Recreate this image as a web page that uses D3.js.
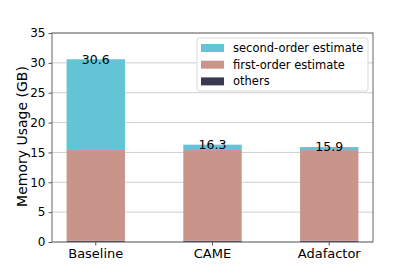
<!DOCTYPE html>
<html>
<head>
<meta charset="utf-8">
<script src="https://cdn.jsdelivr.net/npm/d3@7"></script>
<style>
  body { margin: 0; background: #fff; }
  text { font-family: "DejaVu Sans", sans-serif; fill: #000; }
</style>
</head>
<body>
<svg id="chart"></svg>
<script>
var categories = ["Baseline", "CAME", "Adafactor"]
var others = [0.2, 0.2, 0.2]
var firstOrder = [15.2, 15.2, 15.2]
var secondOrder = [15.2, 0.9, 0.5]
var totals = [30.6, 16.3, 15.9]
var yTicks = [0, 5, 10, 15, 20, 25, 30, 35]
var seriesNames = ["others", "first-order estimate", "second-order estimate"]
var seriesColors = ["#393a52", "#c9948a", "#62c4d4"]

var width = 415
var height = 277
var margin = {top: 33, right: 42, bottom: 35, left: 52}
var innerW = width - margin.left - margin.right
var innerH = height - margin.top - margin.bottom

var svg = d3.select("#chart")
    .attr("width", width)
    .attr("height", height)
  .append("g")
    .attr("transform", `translate(${margin.left},${margin.top})`)

var xScale = d3.scaleBand().domain(categories).range([0, innerW])
    .paddingInner(0.5).paddingOuter(0.125)
var yScale = d3.scaleLinear().domain([0, 35]).range([innerH, 0])

// grid
svg.append("g")
  .selectAll("line")
  .data(yTicks)
  .enter().append("line")
  .attr("x1", 0).attr("x2", innerW)
  .attr("y1", d => yScale(d)).attr("y2", d => yScale(d))
  .attr("stroke", "#cfcfcf").attr("stroke-width", 1)

// stacked bars
var rows = categories.map((c, i) => ({cat: c, others: others[i], first: firstOrder[i], second: secondOrder[i]}))
var stack = d3.stack().keys(["others", "first", "second"])
var layers = stack(rows)

svg.selectAll(".layer")
  .data(layers)
  .enter().append("g")
  .attr("class", "layer")
  .attr("fill", (d, i) => seriesColors[i])
  .selectAll("rect")
  .data(d => d)
  .enter().append("rect")
  .attr("x", d => xScale(d.data.cat))
  .attr("width", xScale.bandwidth())
  .attr("y", d => yScale(d[1]))
  .attr("height", d => yScale(d[0]) - yScale(d[1]))

// value labels
svg.selectAll(".val")
  .data(categories)
  .enter().append("text")
  .attr("class", "val")
  .attr("x", d => xScale(d) + xScale.bandwidth() / 2)
  .attr("y", (d, i) => yScale(totals[i]))
  .attr("dy", "0.35em")
  .attr("text-anchor", "middle")
  .style("font-size", "12.5px")
  .text((d, i) => totals[i].toFixed(1))

// axes
var yAxis = d3.axisLeft(yScale).tickValues(yTicks).tickSizeInner(3.5).tickSizeOuter(0).tickPadding(3)
var xAxis = d3.axisBottom(xScale).tickSizeInner(3.5).tickSizeOuter(0).tickPadding(3)

var gy = svg.append("g").call(yAxis)
gy.selectAll("text").style("font-size", "12px").style("font-family", "DejaVu Sans")
gy.selectAll("line").attr("stroke", "#555")
gy.select(".domain").remove()

var gx = svg.append("g").attr("transform", `translate(0,${innerH})`).call(xAxis)
gx.selectAll("text").style("font-size", "13px").style("font-family", "DejaVu Sans")
gx.selectAll("line").attr("stroke", "#555")
gx.select(".domain").remove()

// frame
svg.append("rect")
  .attr("x", 0).attr("y", 0)
  .attr("width", innerW).attr("height", innerH)
  .attr("fill", "none").attr("stroke", "#666").attr("stroke-width", 1)

// y label
svg.append("text")
  .attr("transform", `translate(${-25},${innerH / 2 - 1}) rotate(-90)`)
  .attr("text-anchor", "middle")
  .style("font-size", "14px")
  .text("Memory Usage (GB)")

// legend
var legend = svg.append("g").attr("transform", `translate(${innerW - 176},5)`)
legend.append("rect")
  .attr("width", 171).attr("height", 53).attr("rx", 2.5)
  .attr("fill", "#fff").attr("fill-opacity", 0.85)
  .attr("stroke", "#d8d8d8")

var legendOrder = [2, 1, 0]
var items = legend.selectAll(".item")
  .data(legendOrder)
  .enter().append("g")
  .attr("class", "item")
  .attr("transform", (d, i) => `translate(4,${10 + i * 16.7})`)
items.append("rect")
  .attr("x", 0).attr("y", -4).attr("width", 23).attr("height", 8)
  .attr("fill", d => seriesColors[d])
items.append("text")
  .attr("x", 32).attr("dy", "0.35em")
  .style("font-size", "11.5px")
  .text(d => seriesNames[d])
</script>
</body>
</html>
